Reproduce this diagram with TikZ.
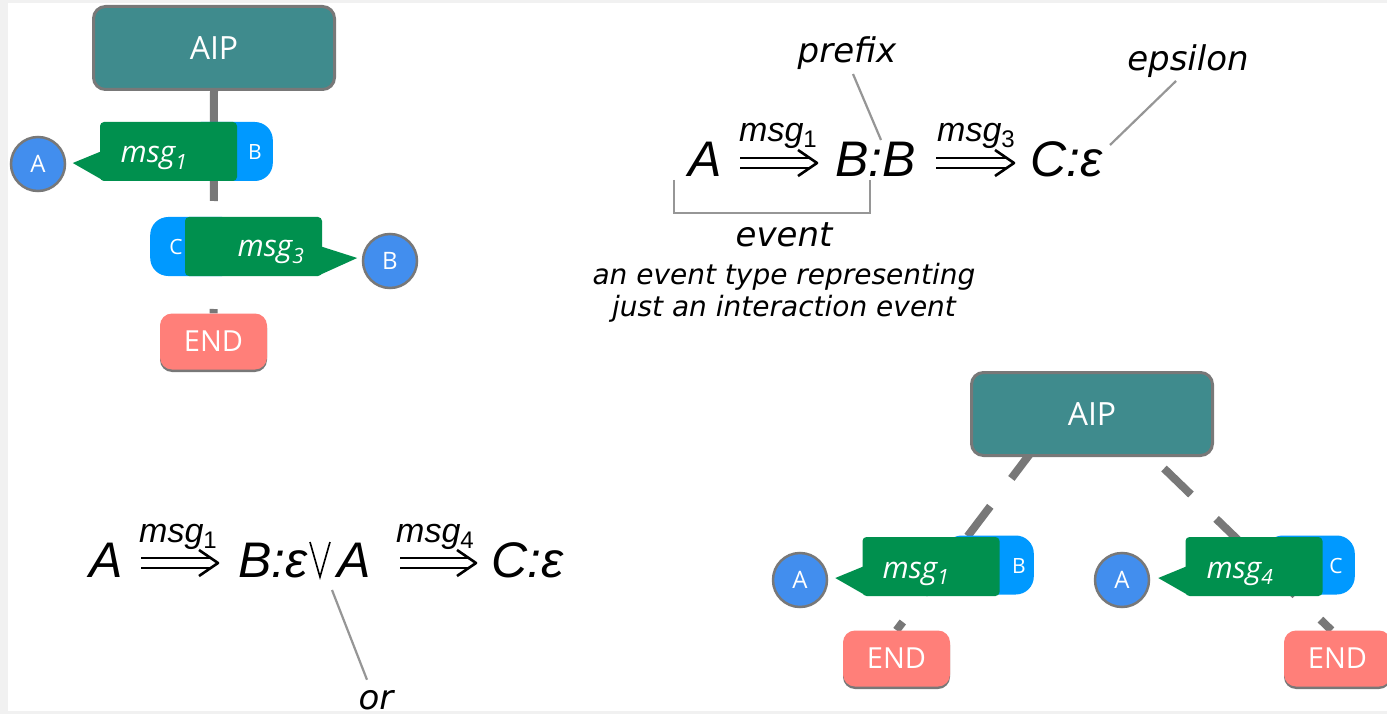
\documentclass[tikz,border=0pt]{standalone}
\usepackage{fontspec}
\setmainfont{Open Sans}
\newfontfamily\labelfont{DejaVu Sans}
\newfontfamily\formfont{Liberation Sans}
\usetikzlibrary{arrows.meta,calc,backgrounds,shadows}

\definecolor{aipteal}{RGB}{63,139,141}
\definecolor{msggreen}{RGB}{0,144,78}
\definecolor{tabblue}{RGB}{0,153,255}
\definecolor{actorblue}{RGB}{66,142,238}
\definecolor{endred}{RGB}{255,127,121}
\definecolor{edgegray}{RGB}{120,120,120}
\definecolor{leadgray}{RGB}{150,150,150}
\definecolor{framegray}{RGB}{241,241,241}

\tikzset{
  aipbox/.style={draw=edgegray, line width=3pt, fill=aipteal, rounded corners=12pt,
    minimum width=241pt, minimum height=83pt, inner sep=0pt, text=white,
    font=\fontsize{32}{36}\selectfont},
  msgbox/.style={fill=msggreen, rounded corners=4pt, minimum width=137pt,
    minimum height=59pt, inner sep=0pt},
  tabbox/.style={fill=tabblue, rounded corners=18pt, minimum width=90pt,
    minimum height=59pt, inner sep=0pt},
  tabletter/.style={text=white, inner sep=0pt, font=\fontsize{21}{24}\selectfont},
  msgtext/.style={text=white, inner sep=0pt, font=\fontsize{30}{34}\selectfont\itshape},
  actor/.style={circle, fill=actorblue, draw=edgegray, line width=2.5pt,
    minimum size=54pt, inner sep=0pt, text=white, font=\fontsize{24}{26}\selectfont},
  endbox/.style={fill=endred, rounded corners=12pt, minimum width=107pt,
    minimum height=56pt, inner sep=0pt, text=white, font=\fontsize{29}{32}\selectfont,
    drop shadow={shadow xshift=0pt, shadow yshift=-2.5pt, fill=edgegray, opacity=1}},
  treeline/.style={draw=edgegray, line width=8pt},
  formula/.style={inner sep=0pt, font=\formfont\fontsize{50}{54}\selectfont\itshape},
  supscript/.style={inner sep=0pt, font=\formfont\fontsize{34}{38}\selectfont\itshape},
  dline/.style={line width=2.6pt, line join=round},
  veeline/.style={line width=1.6pt, line join=miter},
  leader/.style={draw=leadgray, line width=2.2pt},
  note/.style={inner sep=0pt, font=\labelfont\fontsize{34}{38}\selectfont\itshape},
  smallnote/.style={inner sep=0pt, align=center, font=\labelfont\fontsize{28}{32}\selectfont\itshape},
}

% subscript index of a message label above an arrow
\newcommand\supidx[1]{\raisebox{-6pt}{\fontsize{24}{26}\selectfont\upshape #1}}
% long double arrow: #1 start point on the axis, #2 length
\newcommand\implarrow[2]{%
  \draw[dline] #1 ++(0,-5) -- ++({#2-8},0);
  \draw[dline] #1 ++(0,5) -- ++({#2-8},0);
  \draw[dline] #1 ++({#2-19},-13) -- ++(19,13) -- ++(-19,13);
}

\begin{document}
\begin{tikzpicture}[x=1pt, y=-1pt]
\useasboundingbox (0,0) rectangle (1387,714);

% ---------- sequential protocol tree ----------
\node[aipbox] (aipL) at (214,48) {AIP};

\node[tabbox, anchor=east] (tabL1) at (273,151.5) {};
\node[tabletter] at (255,152) {B};
\node[msgbox] (msgL1) at (168.5,151.5) {};
\fill[msggreen] ($(msgL1.west)+(1,0)$) -- ($(msgL1.west)+(-27,11.5)$) -- ($(msgL1.south west)+(3,-1)$) -- cycle;
\node[msgtext, anchor=base] at (154,163) {msg\textsubscript{1}};
\node[actor] (actL1) at (38,164) {A};

\node[tabbox, anchor=west] (tabL3) at (150,246.5) {};
\node[tabletter] at (176,247) {C};
\node[msgbox] (msgL3) at (253.5,246.5) {};
\fill[msggreen] ($(msgL3.east)+(-1,0)$) -- ($(msgL3.east)+(35,11.5)$) -- ($(msgL3.south east)+(-3,-1)$) -- cycle;
\node[msgtext, anchor=base] at (271,257) {msg\textsubscript{3}};
\node[actor] (actL3) at (390,261) {B};

\node[endbox] (endL) at (213.5,341.5) {END};

% ---------- choice protocol tree ----------
\node[aipbox] (aipR) at (1092,414) {AIP};

\node[tabbox, anchor=east] (tabR1) at (1034,565) {};
\node[tabletter] at (1019,566) {B};
\node[msgbox] (msgR1) at (931,566.5) {};
\fill[msggreen] ($(msgR1.west)+(1,0)$) -- ($(msgR1.west)+(-27,11.5)$) -- ($(msgR1.south west)+(3,-1)$) -- cycle;
\node[msgtext, anchor=base] at (916,578) {msg\textsubscript{1}};
\node[actor] (actR1) at (800,580) {A};

\node[tabbox, anchor=east] (tabR4) at (1355,565) {};
\node[tabletter] at (1336,566) {C};
\node[msgbox] (msgR4) at (1254,566.5) {};
\fill[msggreen] ($(msgR4.west)+(1,0)$) -- ($(msgR4.west)+(-27,11.5)$) -- ($(msgR4.south west)+(3,-1)$) -- cycle;
\node[msgtext, anchor=base] at (1240,578) {msg\textsubscript{4}};
\node[actor] (actR4) at (1122,580) {A};

\node[endbox] (endR1) at (896.5,658.5) {END};
\node[endbox] (endR2) at (1337.5,658.5) {END};

% ---------- event formula ----------
\node[formula, anchor=base west] (fA1) at (688,177) {A};
\node[formula, anchor=base west] (fBB) at (835,177) {B:B};
\node[formula, anchor=base west] (fCE) at (1030,177) {C:ε};
\implarrow{($(fA1.base west)+(52,-14)$)}{77}
\implarrow{($(fBB.base west)+(101,-14)$)}{78}
\node[supscript, anchor=base west] (sA1) at ($(fA1.base west)+(51,-35)$) {msg\supidx{1}};
\node[supscript, anchor=base west] (sB3) at ($(fBB.base west)+(102,-35)$) {msg\supidx{3}};

\node[note, anchor=base] (prefix) at (847,63) {prefix};
\node[note, anchor=base] (eps) at (1188,71) {epsilon};
\node[note, anchor=base] (event) at (784,247) {event};
\node[smallnote, anchor=base] (evdesc) at (784,316) {an event type representing\\ just an interaction event};

\draw[leader] ($(prefix.base)+(6,11)$) -- ($(fBB.base west)+(46,-37)$);
\draw[leader] ($(eps.base)+(-12,10)$) -- ($(fCE.base west)+(80,-32)$);
\draw[leader] ($(fA1.base west)+(-14,3)$) -- ++(0,33) -| ($(fBB.base west)+(35,3)$);

% ---------- choice formula ----------
\node[formula, anchor=base west] (fA2) at (89,577) {A};
\node[formula, anchor=base west] (fBE) at (238,577) {B:ε\hspace{30pt}A};
\node[formula, anchor=base west] (fCE2) at (491,577) {C:ε};
% logical "or" sign between the two alternatives
\draw[veeline] ($(fBE.base west)+(72,-35)$) -- ($(fBE.base west)+(82,0)$) -- ($(fBE.base west)+(92,-35)$);
\implarrow{($(fA2.base west)+(52,-14)$)}{77}
\implarrow{($(fBE.base west)+(162,-14)$)}{76}
\node[supscript, anchor=base west] (sA2) at ($(fA2.base west)+(50,-35)$) {msg\supidx{1}};
\node[supscript, anchor=base west] (sB4) at ($(fBE.base west)+(158,-35)$) {msg\supidx{4}};

\node[note, anchor=base] (orlabel) at (376,709) {or};
\draw[leader] ($(fBE.base west)+(94,13)$) -- ($(orlabel.north)+(-9,-10)$);

% ---------- frame and tree connectors ----------
\begin{pgfonlayer}{background}
  \fill[framegray] (0,0) rectangle (1387,714);
  \fill[white] (8,3) rectangle (1387,711);
  \draw[treeline, dash pattern=on 110pt off 108pt] (aipL.south) -- (endL.north);
  \draw[treeline, dash pattern=on 37.5pt off 35pt] ($(aipR.south)+(-58,-8.5)$) -- (endR1.north);
  \draw[treeline, dash pattern=on 37.5pt off 35pt] ($(aipR.south)+(72,11.5)$) -- ($(endR2.north)+(-6,0)$);
\end{pgfonlayer}
\fill[framegray] (0,711) rectangle (1387,714);
\end{tikzpicture}
\end{document}
